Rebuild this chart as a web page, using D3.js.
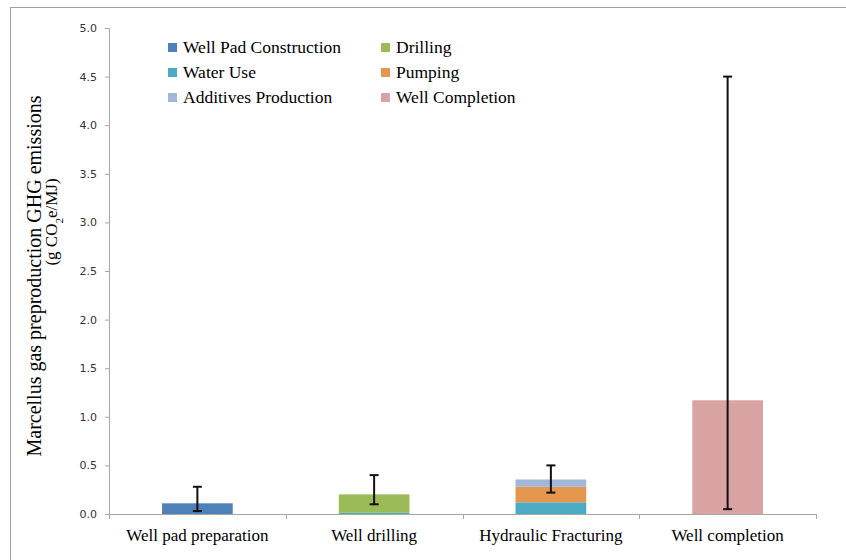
<!DOCTYPE html>
<html>
<head>
<meta charset="utf-8">
<script src="https://cdn.jsdelivr.net/npm/d3@7"></script>
<style>
  body { margin: 0; background: #fff; }
  svg { display: block; }
</style>
</head>
<body>
<div id="chart"></div>
<script>
// data
var categories = ["Well pad preparation", "Well drilling", "Hydraulic Fracturing", "Well completion"];
var seriesNames = ["Well Pad Construction", "Drilling", "Water Use", "Pumping", "Additives Production", "Well Completion"];
var wellPad    = [0.11, 0,     0,     0];
var drilling   = [0,    0.19,  0,     0];
var waterUse   = [0,    0.012, 0.12,  0];
var pumping    = [0,    0,     0.16,  0];
var additives  = [0,    0,     0.075, 0];
var completion = [0,    0,     0,     1.17];
var errLow  = [0.03, 0.10, 0.22, 0.05];
var errHigh = [0.28, 0.40, 0.50, 4.50];
var yTicks = [0, 0.5, 1, 1.5, 2, 2.5, 3, 3.5, 4, 4.5, 5];

var colors = ["#4f81b9", "#9bbb59", "#4babc4", "#e3974f", "#a2b6d9", "#d9a3a3"];

var width = 846, height = 560;
var margin = {top: 28, right: 30, bottom: 46, left: 109};

var svg = d3.select("#chart").append("svg")
  .attr("width", width)
  .attr("height", height);

// outer frame (runs off the right and bottom edge)
svg.append("rect")
  .attr("x", 10.5).attr("y", 7.5)
  .attr("width", 900).attr("height", 700)
  .attr("fill", "none")
  .attr("stroke", "#a0a0a0")
  .attr("stroke-width", 1);

var x = d3.scaleBand()
  .domain(categories)
  .range([margin.left, 816])
  .paddingInner(0.6)
  .paddingOuter(0.3);

var y = d3.scaleLinear()
  .domain([0, 5])
  .range([514, margin.top]);

// stack the series
var rows = categories.map(function(c, i) {
  return {
    cat: c,
    "Well Pad Construction": wellPad[i],
    "Drilling": drilling[i],
    "Water Use": waterUse[i],
    "Pumping": pumping[i],
    "Additives Production": additives[i],
    "Well Completion": completion[i]
  };
});
var stackOrder = ["Well Pad Construction", "Water Use", "Drilling", "Pumping", "Additives Production", "Well Completion"];
var stacked = d3.stack().keys(stackOrder)(rows);

var color = d3.scaleOrdinal().domain(seriesNames).range(colors);

svg.append("g").selectAll("g")
  .data(stacked)
  .enter().append("g")
    .attr("fill", function(d) { return color(d.key); })
  .selectAll("rect")
  .data(function(d) { return d; })
  .enter().append("rect")
    .attr("x", function(d) { return x(d.data.cat); })
    .attr("width", x.bandwidth())
    .attr("y", function(d) { return y(d[1]); })
    .attr("height", function(d) { return y(d[0]) - y(d[1]); });

// y axis
var yAxis = svg.append("g")
  .attr("transform", "translate(" + margin.left + ",0)")
  .call(d3.axisLeft(y).tickValues(yTicks).tickFormat(d3.format(".1f")).tickSizeOuter(0).tickSize(4).tickPadding(8));
yAxis.select(".domain").attr("stroke", "#a6a6a6");
yAxis.selectAll(".tick line").attr("stroke", "#a6a6a6");
yAxis.selectAll("text")
  .attr("fill", "#333")
  .style("font-family", "'DejaVu Sans', Verdana, sans-serif")
  .style("font-size", "11px");

// x axis line with boundary ticks
var xg = svg.append("g");
xg.append("line")
  .attr("x1", 105).attr("x2", 816)
  .attr("y1", y(0) + 0.5).attr("y2", y(0) + 0.5)
  .attr("stroke", "#a6a6a6");
var step = x.step();
var bounds = categories.map(function(c) { return x(c) - step * 0.3; }).concat([816]);
xg.selectAll(".xt")
  .data(bounds)
  .enter().append("line")
    .attr("x1", function(d) { return Math.round(d) + 0.5; })
    .attr("x2", function(d) { return Math.round(d) + 0.5; })
    .attr("y1", y(0)).attr("y2", y(0) + 5)
    .attr("stroke", "#a6a6a6");
xg.selectAll(".xl")
  .data(categories)
  .enter().append("text")
    .attr("x", function(d) { return x(d) + x.bandwidth() / 2; })
    .attr("y", 541)
    .attr("text-anchor", "middle")
    .style("font-family", "'Liberation Serif', 'Times New Roman', serif")
    .style("font-size", "17px")
    .text(function(d) { return d; });

// error bars
var eb = svg.append("g").attr("stroke", "#111").attr("stroke-width", 2);
categories.forEach(function(c, i) {
  var cx = x(c) + x.bandwidth() / 2;
  eb.append("line").attr("x1", cx).attr("x2", cx).attr("y1", y(errHigh[i])).attr("y2", y(errLow[i]));
  eb.append("line").attr("x1", cx - 4.5).attr("x2", cx + 4.5).attr("y1", y(errHigh[i])).attr("y2", y(errHigh[i]));
  eb.append("line").attr("x1", cx - 4.5).attr("x2", cx + 4.5).attr("y1", y(errLow[i])).attr("y2", y(errLow[i]));
});

// legend, two columns
var legend = svg.append("g");
seriesNames.forEach(function(name, i) {
  var col = i % 2, row = Math.floor(i / 2);
  var lx = col === 0 ? 168 : 381;
  var ly = 48 + row * 25;
  legend.append("rect")
    .attr("x", lx).attr("y", ly - 5)
    .attr("width", 9).attr("height", 9)
    .attr("fill", colors[i]);
  legend.append("text")
    .attr("x", lx + 15).attr("y", ly + 5)
    .style("font-family", "'Liberation Serif', 'Times New Roman', serif")
    .style("font-size", "17.5px")
    .text(name);
});

// y axis title (two lines, rotated)
svg.append("text")
  .attr("transform", "translate(41,276) rotate(-90)")
  .attr("text-anchor", "middle")
  .style("font-family", "'Liberation Serif', 'Times New Roman', serif")
  .style("font-size", "20px")
  .text("Marcellus gas preproduction GHG emissions");
var l2 = svg.append("text")
  .attr("transform", "translate(57,222) rotate(-90)")
  .attr("text-anchor", "middle")
  .style("font-family", "'Liberation Serif', 'Times New Roman', serif")
  .style("font-size", "17px");
l2.append("tspan").text("(g CO");
l2.append("tspan").attr("baseline-shift", "sub").style("font-size", "11px").text("2");
l2.append("tspan").text("e/MJ)");
</script>
</body>
</html>
